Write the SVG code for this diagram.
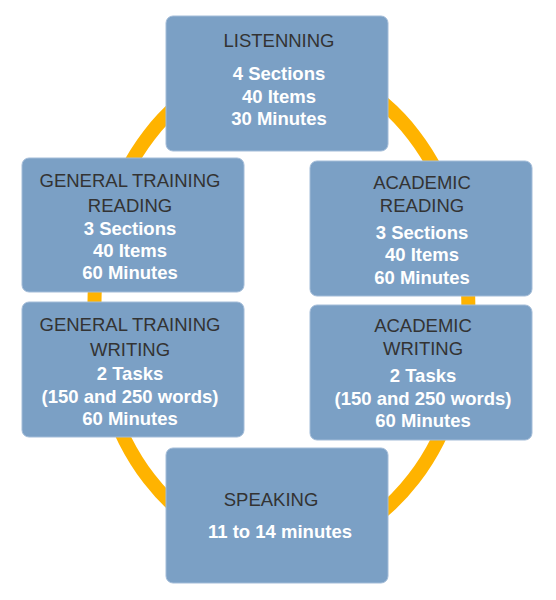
<svg xmlns="http://www.w3.org/2000/svg" width="556" height="600" viewBox="0 0 556 600">
<style>
.box{fill:#7ba0c5;stroke:#a3bcd8;stroke-width:1}
.t{font-family:"Liberation Sans",Arial,sans-serif;font-size:18.5px;fill:#333333;text-anchor:middle}
.b{font-family:"Liberation Sans",Arial,sans-serif;font-size:18.5px;font-weight:bold;fill:#ffffff;text-anchor:middle}
</style>
<rect width="556" height="600" fill="#ffffff"/>
<g id="connectors">
<ellipse cx="281.4" cy="307" rx="187" ry="243" fill="none" stroke="#ffb300" stroke-width="14"/>
</g>
<g id="listening">
<rect class="box" x="166" y="16" width="222" height="135" rx="7"/>
<text class="t" x="279" y="46.5">LISTENNING</text>
<text class="b" x="279" y="79.5">4 Sections</text>
<text class="b" x="279" y="102.5">40 Items</text>
<text class="b" x="279" y="124.5">30 Minutes</text>
</g>
<g id="gt-reading">
<rect class="box" x="22" y="158" width="222" height="134" rx="7"/>
<text class="t" x="130" y="187">GENERAL TRAINING</text>
<text class="t" x="130" y="212">READING</text>
<text class="b" x="130" y="235">3 Sections</text>
<text class="b" x="130" y="257">40 Items</text>
<text class="b" x="130" y="279">60 Minutes</text>
</g>
<g id="academic-reading">
<rect class="box" x="310" y="161" width="222" height="135" rx="7"/>
<text class="t" x="422" y="188.5">ACADEMIC</text>
<text class="t" x="422" y="211.5">READING</text>
<text class="b" x="422" y="238.5">3 Sections</text>
<text class="b" x="422" y="261">40 Items</text>
<text class="b" x="422" y="283.5">60 Minutes</text>
</g>
<g id="gt-writing">
<rect class="box" x="22" y="302" width="222" height="135" rx="7"/>
<text class="t" x="130" y="331">GENERAL TRAINING</text>
<text class="t" x="130" y="355.5">WRITING</text>
<text class="b" x="130" y="379.5">2 Tasks</text>
<text class="b" x="130" y="402.5">(150 and 250 words)</text>
<text class="b" x="130" y="424.5">60 Minutes</text>
</g>
<g id="academic-writing">
<rect class="box" x="310" y="305" width="222" height="135" rx="7"/>
<text class="t" x="423" y="332">ACADEMIC</text>
<text class="t" x="423" y="355">WRITING</text>
<text class="b" x="423" y="382">2 Tasks</text>
<text class="b" x="423" y="405">(150 and 250 words)</text>
<text class="b" x="423" y="427">60 Minutes</text>
</g>
<g id="speaking">
<rect class="box" x="166" y="448" width="222" height="135" rx="7"/>
<text class="t" x="271" y="506">SPEAKING</text>
<text class="b" x="280" y="538">11 to 14 minutes</text>
</g>
</svg>
